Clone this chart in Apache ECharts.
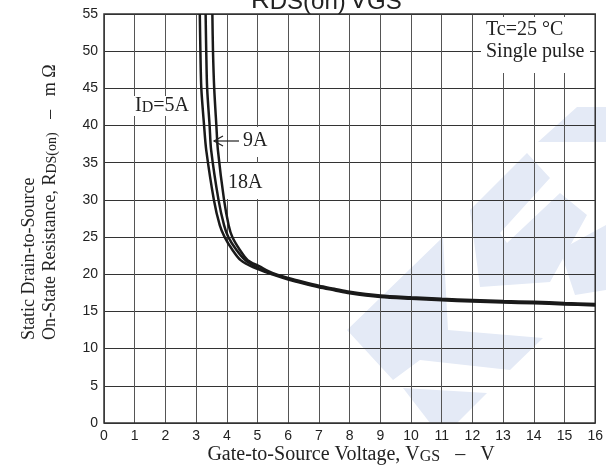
<!DOCTYPE html>
<html>
<head>
<meta charset="utf-8">
<script src="https://cdn.jsdelivr.net/npm/echarts@6/dist/echarts.min.js"></script>
<style>
  html, body { margin: 0; padding: 0; background: #fff; }
  #chart { width: 606px; height: 474px; }
</style>
</head>
<body>
<div id="chart"></div>
<script>
// curve data (VGS in V, RDS(on) in mOhm)
const vgs5 = [3.12, 3.14, 3.17, 3.26, 3.33, 3.58, 3.77, 3.93, 4.18, 4.45, 4.85, 5.5, 6, 6.5, 7, 7.5, 8, 9, 10, 11, 12, 13, 14, 15, 16];
const rds5 = [55, 50, 45, 40, 36.7, 30, 26.6, 25, 23.3, 21.9, 20.95, 19.95, 19.3, 18.75, 18.25, 17.85, 17.45, 16.95, 16.7, 16.5, 16.35, 16.2, 16.1, 15.95, 15.8];
const vgs9 = [3.31, 3.33, 3.36, 3.44, 3.49, 3.73, 3.91, 4.05, 4.31, 4.6, 4.95, 5.5, 6, 6.5, 7, 7.5, 8, 9, 10, 11, 12, 13, 14, 15, 16];
const rds9 = [55, 50, 45, 40, 36.7, 30, 26.6, 25, 23.3, 21.9, 21.0, 20.05, 19.4, 18.85, 18.35, 17.95, 17.55, 17.05, 16.8, 16.6, 16.45, 16.3, 16.2, 16.05, 15.9];
const vgs18 = [3.53, 3.55, 3.59, 3.66, 3.71, 3.91, 4.06, 4.18, 4.42, 4.68, 5.05, 5.5, 6, 6.5, 7, 7.5, 8, 9, 10, 11, 12, 13, 14, 15, 16];
const rds18 = [55, 50, 45, 40, 36.7, 30, 26.6, 25, 23.3, 21.9, 21.1, 20.15, 19.5, 18.95, 18.45, 18.05, 17.65, 17.15, 16.9, 16.7, 16.55, 16.4, 16.3, 16.15, 16.0];

const xTicks = [0, 16, 1];   // min, max, step
const yTicks = [0, 55, 5];

const pairs = (xs, ys) => xs.map((x, i) => [x, ys[i]]);

const chart = echarts.init(document.getElementById("chart"));

const serif = "'Liberation Serif', 'Times New Roman', serif";
const sans = "'Liberation Sans', Arial, sans-serif";
const ink = "#222";
const wm = "#e4eaf6";

// rich styles: m = main text, s = subscript
const richSerif = (size) => ({
  m: { fontFamily: serif, fontSize: size, fill: ink, verticalAlign: "top", lineHeight: size },
  s: { fontFamily: serif, fontSize: size - 4, fill: ink, verticalAlign: "bottom", lineHeight: size - 4, padding: [7, 0, 0, 0] },
});

const curve = (name, data) => ({
  name: name,
  type: "line",
  data: data,
  smooth: 0.3,
  showSymbol: false,
  clip: true,
  lineStyle: { color: "#1a1a1a", width: 2.5 },
  z: 5,
});

chart.setOption({
  animation: false,
  grid: {
    left: 104,
    top: 14,
    right: 9,
    bottom: 51,
    show: true,
    borderColor: "#333",
    borderWidth: 1.5,
    z: 3,
  },
  xAxis: {
    type: "value",
    min: xTicks[0],
    max: xTicks[1],
    interval: xTicks[2],
    axisLine: { show: false },
    axisTick: { show: false },
    axisLabel: { color: ink, fontFamily: sans, fontSize: 14, margin: 6 },
    splitLine: { lineStyle: { color: "#555", width: 1 } },
  },
  yAxis: {
    type: "value",
    min: yTicks[0],
    max: yTicks[1],
    interval: yTicks[2],
    axisLine: { show: false },
    axisTick: { show: false },
    axisLabel: { color: ink, fontFamily: sans, fontSize: 14, margin: 6 },
    splitLine: { lineStyle: { color: "#333", width: 1 } },
  },
  series: [
    curve("ID=5A", pairs(vgs5, rds5)),
    curve("ID=9A", pairs(vgs9, rds9)),
    curve("ID=18A", pairs(vgs18, rds18)),
  ],
  graphic: {
    elements: [
      // faint watermark logo behind the grid
      { type: "polygon", z: -1, shape: { points: [[347, 330], [443, 237], [448, 330], [543, 338], [510, 370], [420, 360], [393, 380]] }, style: { fill: wm } },
      { type: "polygon", z: -1, shape: { points: [[470, 210], [527, 153], [550, 178], [500, 233], [507, 243], [560, 193], [587, 215], [550, 282], [480, 287]] }, style: { fill: wm } },
      { type: "polygon", z: -1, shape: { points: [[538, 142], [577, 107], [606, 107], [606, 142]] }, style: { fill: wm } },
      { type: "polygon", z: -1, shape: { points: [[403, 388], [487, 393], [457, 423], [430, 423]] }, style: { fill: wm } },
      { type: "polygon", z: -1, shape: { points: [[560, 250], [606, 225], [606, 290], [575, 295]] }, style: { fill: wm } },

      // title, mostly cut off by the top edge
      {
        type: "text", left: 251, top: -17, z: 10,
        style: {
          text: "{m|R}{s|DS(on)}{g| }{m|V}{s|GS}",
          rich: {
            m: { fontFamily: sans, fontSize: 26, fill: ink, verticalAlign: "top", lineHeight: 26 },
            s: { fontFamily: sans, fontSize: 24, fill: ink, verticalAlign: "bottom", lineHeight: 24, padding: [7, 0, 0, 0] },
            g: { fontFamily: sans, fontSize: 14, lineHeight: 14 },
          },
        },
      },

      // curve labels
      {
        type: "text", left: 133, top: 93, z: 10,
        style: { text: "{m|I}{s|D}{m|=5A}", backgroundColor: "#fff", padding: [0, 2, 0, 2], rich: richSerif(20) },
      },
      { type: "rect", z: 9, shape: { x: 229, y: 127, width: 40, height: 30 }, style: { fill: "#fff" } },
      { type: "line", z: 10, shape: { x1: 214, y1: 141, x2: 239, y2: 141 }, style: { stroke: ink, lineWidth: 1.2 } },
      { type: "polyline", z: 10, shape: { points: [[223, 136], [214, 141], [223, 146]] }, style: { stroke: ink, lineWidth: 1.2, fill: null } },
      { type: "text", left: 243, top: 131, z: 10, style: { text: "9A", fontFamily: serif, fontSize: 20, lineHeight: 20, fill: ink } },
      { type: "rect", z: 9, shape: { x: 226, y: 163, width: 39, height: 36 }, style: { fill: "#fff" } },
      { type: "text", left: 228, top: 173, z: 10, style: { text: "18A", fontFamily: serif, fontSize: 20, lineHeight: 20, fill: ink } },

      // conditions box
      { type: "rect", z: 9, shape: { x: 481, y: 17, width: 109, height: 56 }, style: { fill: "#fff" } },
      { type: "text", left: 486, top: 20, z: 10, style: { text: "Tc=25 °C", fontFamily: serif, fontSize: 20, lineHeight: 20, fill: ink } },
      { type: "text", left: 486, top: 42, z: 10, style: { text: "Single pulse", fontFamily: serif, fontSize: 20, lineHeight: 20, fill: ink } },

      // x axis name
      {
        type: "text", x: 351, y: 445, z: 10,
        style: { text: "{m|Gate-to-Source Voltage, V}{s|GS}{m|   –   V}", align: "center", rich: richSerif(20) },
      },
      // y axis name, two lines, read bottom to top
      {
        type: "text", x: 29, y: 340, rotation: Math.PI / 2, z: 10,
        style: {
          text: "Static Drain-to-Source", fontFamily: serif, fontSize: 18, lineHeight: 18, fill: ink,
          align: "left", verticalAlign: "middle",
        },
      },
      {
        type: "text", x: 50, y: 340, rotation: Math.PI / 2, z: 10,
        style: {
          text: "{m|On-State Resistance, R}{s|DS(on)}{m|   –   m Ω}",
          align: "left", verticalAlign: "middle", rich: richSerif(18),
        },
      },
    ],
  },
});
</script>
</body>
</html>
